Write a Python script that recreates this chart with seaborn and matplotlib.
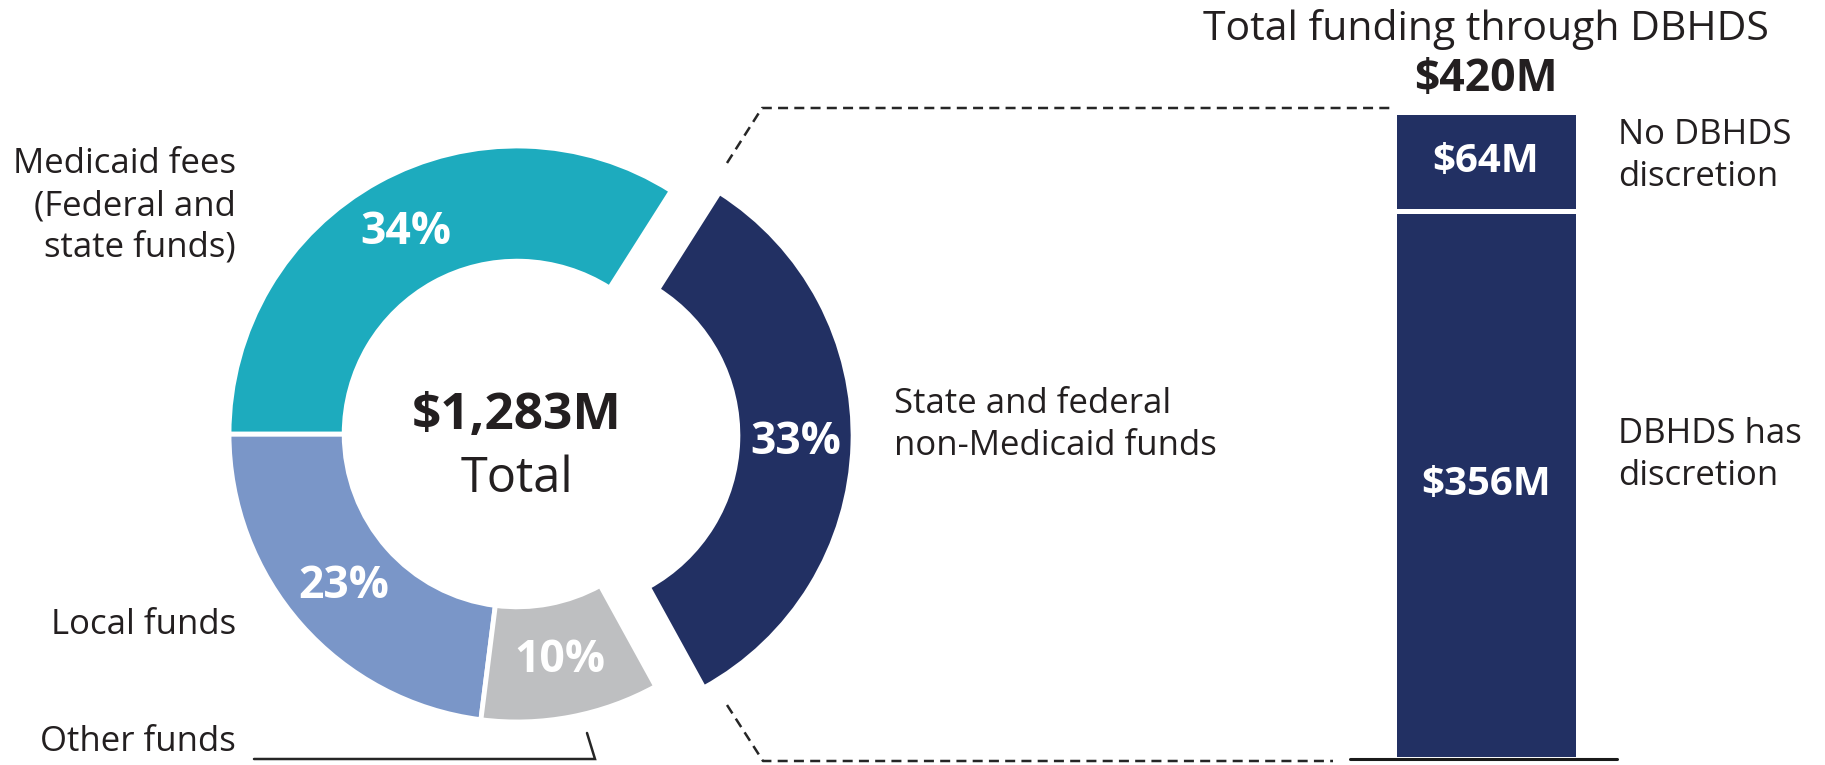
import numpy as np
import pandas as pd
import matplotlib
matplotlib.use("Agg")
import matplotlib.pyplot as plt
import seaborn as sns

# donut data, in drawing order (counter-clockwise from 9 o'clock)
sources = ["Local funds", "Other funds", "State and federal\nnon-Medicaid funds",
           "Medicaid fees\n(Federal and\nstate funds)"]
shares = [23, 10, 33, 34]
colors = ["#7A96C8", "#BEBFC1", "#223063", "#1DABBE"]
explode = [0, 0, 0.167, 0]
total_m = 1283

# DBHDS bar (bottom to top)
dbhds_parts = ["DBHDS has\ndiscretion", "No DBHDS\ndiscretion"]
dbhds_values = [356, 64]

W, H = 1825, 765
navy = colors[2]
ink = "#231F20"

sns.set_theme(style="white")
plt.rcParams["font.family"] = ["Open Sans", "DejaVu Sans"]

fig = plt.figure(figsize=(W / 100, H / 100), dpi=100)

# overlay axes in pixel units for labels and connector lines
ax = fig.add_axes([0, 0, 1, 1])
ax.set_xlim(0, W)
ax.set_ylim(H, 0)
ax.axis("off")

# donut
cx, cy, R = 517, 434, 288
half = 400
axp = fig.add_axes([(cx - half) / W, (H - cy - half) / H, 2 * half / W, 2 * half / H])
axp.patch.set_alpha(0)
wedges, texts, autotexts = axp.pie(
    shares, colors=colors, explode=explode, startangle=180, counterclock=True,
    pctdistance=0.8, autopct=lambda p: f"{p:.0f}%",
    wedgeprops=dict(width=0.4, edgecolor="white", linewidth=3.5),
    textprops=dict(color="white", fontsize=32, fontweight="bold"))
lim = half / R
axp.set_xlim(-lim, lim)
axp.set_ylim(-lim, lim)
axp.axis("off")

axp.text(0, 18 / R, f"${total_m:,}M", ha="center", va="center",
         fontsize=37, fontweight="bold", color=ink)
axp.text(0, -45 / R, "Total", ha="center", va="center", fontsize=35, color=ink)

# donut labels
ax.text(236, 206, sources[3], ha="right", va="center", fontsize=25, color=ink, linespacing=1.3)
ax.text(236, 625, sources[0], ha="right", va="center", fontsize=25, color=ink)
ax.text(236, 742, sources[1], ha="right", va="center", fontsize=25, color=ink)
ax.text(894, 425, sources[2], ha="left", va="center", fontsize=25, color=ink, linespacing=1.3)

# other funds leader
ax.plot([587, 595, 254], [733, 759, 759], color="#262626", lw=1.8, solid_joinstyle="miter")

# dashed connectors from exploded wedge to bar
dash = (0, (4, 2.5))
ax.plot([727, 762, 1393], [163, 108, 108], ls=dash, color="#262626", lw=1.8)
ax.plot([727, 763, 1333], [705, 761, 761], ls=dash, color="#262626", lw=1.8)

# stacked bar
base_y, top_y = 759, 112
bar_total = sum(dbhds_values)
bx0, bw = 1347, 278
axb = fig.add_axes([bx0 / W, (H - base_y) / H, bw / W, (base_y - top_y) / H])
axb.patch.set_alpha(0)
sns.barplot(x=["DBHDS"], y=[bar_total], color=navy, saturation=1, width=0.66,
            edgecolor="white", linewidth=3.6, ax=axb)
sns.barplot(x=["DBHDS"], y=[dbhds_values[0]], color=navy, saturation=1, width=0.66,
            edgecolor="white", linewidth=3.6, ax=axb)
axb.set_xlim(-0.5, 0.5)
axb.set_ylim(0, bar_total)
axb.axis("off")
axb.axhline(0, xmin=(1350 - bx0) / bw, xmax=(1617 - bx0) / bw, color="#1a1a1a",
            lw=2.2, clip_on=False)

bottoms = np.concatenate([[0], np.cumsum(dbhds_values)[:-1]])
for b, v in zip(bottoms, dbhds_values):
    axb.text(0, b + v / 2, f"${v}M", ha="center", va="center", color="white",
             fontsize=29, fontweight="bold")

ax.text(1486, 29, "Total funding through DBHDS", ha="center", va="center", fontsize=29.5, color=ink)
ax.text(1486, 79, f"${bar_total}M", ha="center", va="center", fontsize=32,
        fontweight="bold", color=ink)
ax.text(1618, 156, dbhds_parts[1], ha="left", va="center", fontsize=25, color=ink, linespacing=1.3)
ax.text(1618, 455, dbhds_parts[0], ha="left", va="center", fontsize=25, color=ink, linespacing=1.3)

fig.savefig("out.png", dpi=100, facecolor="white")
